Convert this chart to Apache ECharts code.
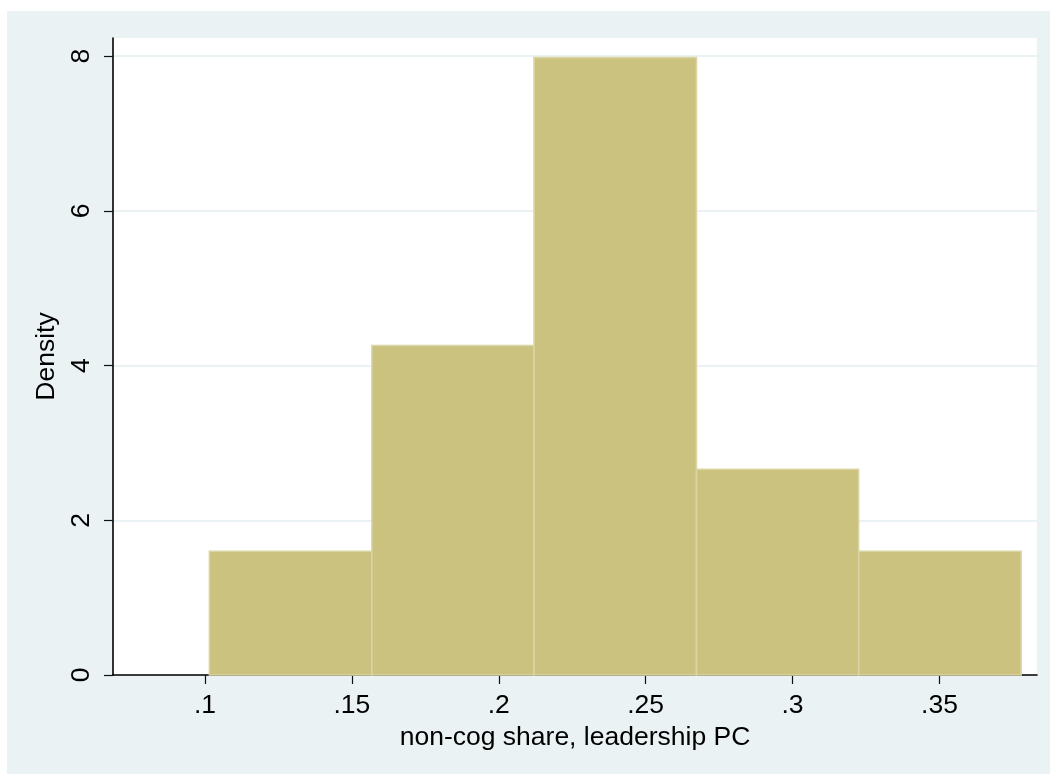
<!DOCTYPE html>
<html>
<head>
<meta charset="utf-8">
<script src="https://cdn.jsdelivr.net/npm/echarts@6/dist/echarts.min.js"></script>
<style>
  html, body { margin: 0; padding: 0; background: #ffffff; }
  #chart { width: 1050px; height: 774px; }
</style>
</head>
<body>
<div id="chart"></div>
<script>
// Histogram of the non-cognitive share of the leadership principal component
const binEdges = [0.1015, 0.1568, 0.2120, 0.2673, 0.3225, 0.3778];
const densities = [1.6, 4.26, 7.98, 2.66, 1.6];
const xTicks = [0.1, 0.15, 0.2, 0.25, 0.3, 0.35];
const yTicks = [0, 2, 4, 6, 8];
const xTitle = 'non-cog share, leadership PC';
const yTitle = 'Density';

const bins = densities.map((d, i) => [binEdges[i], binEdges[i + 1], d]);

const FONT = '"Liberation Sans", Arial, sans-serif';
const FS = 26.5;

const chart = echarts.init(document.getElementById('chart'), null, { renderer: 'canvas' });

chart.setOption({
  animation: false,
  backgroundColor: '#EAF2F3',
  graphic: [
    { type: 'rect', shape: { x: 0, y: 0, width: 1050, height: 11 }, style: { fill: '#ffffff' }, silent: true },
    { type: 'rect', shape: { x: 0, y: 0, width: 7, height: 774 }, style: { fill: '#ffffff' }, silent: true }
  ],
  grid: {
    left: 113, right: 13, top: 38, bottom: 99,
    show: true, backgroundColor: '#ffffff', borderWidth: 0
  },
  xAxis: {
    type: 'value',
    min: 0.0687, max: 0.3832,
    name: xTitle,
    nameLocation: 'middle',
    nameGap: 44,
    nameTextStyle: { fontFamily: FONT, fontSize: FS, lineHeight: FS, color: '#000' },
    axisLine: { show: true, onZero: false, lineStyle: { color: '#000', width: 1.6 } },
    axisTick: { show: true, length: 9, customValues: xTicks, lineStyle: { color: '#111', width: 1.2 } },
    axisLabel: {
      customValues: xTicks,
      margin: 17.5,
      fontFamily: FONT, fontSize: FS, lineHeight: FS, color: '#000',
      formatter: v => String(+v.toFixed(4)).replace(/^0\./, '.')
    },
    splitLine: { show: false }
  },
  yAxis: {
    type: 'value',
    min: 0, max: 8.233,
    name: yTitle,
    nameLocation: 'middle',
    nameGap: 44.5,
    nameRotate: 90,
    nameTextStyle: { fontFamily: FONT, fontSize: FS, lineHeight: FS, color: '#000' },
    axisLine: { show: true, onZero: false, lineStyle: { color: '#000', width: 1.6 } },
    axisTick: { show: true, length: 9, customValues: yTicks, lineStyle: { color: '#111', width: 1.2 } },
    axisLabel: {
      customValues: yTicks,
      rotate: 90,
      margin: 18.5,
      fontFamily: FONT, fontSize: FS, lineHeight: FS, color: '#000'
    },
    splitLine: { show: true, lineStyle: { color: '#EAF2F3', width: 2 } }
  },
  series: [{
    type: 'custom',
    data: bins,
    encode: { x: [0, 1], y: 2 },
    renderItem: function (params, api) {
      const x0 = api.value(0), x1 = api.value(1), h = api.value(2);
      const p0 = api.coord([x0, 0]);
      const p1 = api.coord([x1, h]);
      return {
        type: 'rect',
        shape: { x: p0[0], y: p1[1], width: p1[0] - p0[0], height: p0[1] - p1[1] },
        style: { fill: '#CBC280', stroke: '#DBD5A6', lineWidth: 1.5 }
      };
    },
    z: 2
  }]
});
</script>
</body>
</html>
